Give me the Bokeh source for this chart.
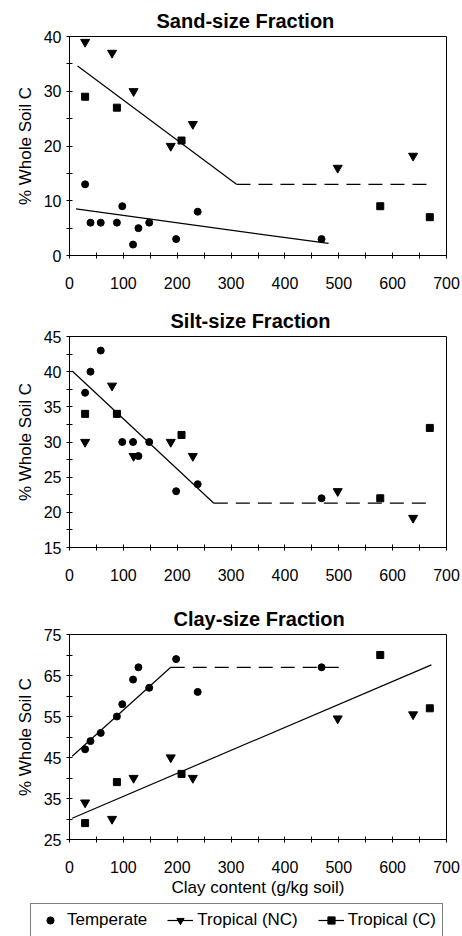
from bokeh.plotting import figure
from bokeh.layouts import column
from bokeh.models import Range1d, FixedTicker, Legend, LegendItem
from bokeh.embed import file_html
from bokeh.resources import INLINE

FONT = "Liberation Sans"
NAN = float("nan")

# Clay content (g/kg soil) of each soil group
temperate_clay = [29, 39, 58, 88, 98, 118, 128, 148, 198, 238, 468]
tropical_nc_clay = [29, 79, 119, 188, 229, 498, 638]
tropical_c_clay = [29, 88, 208, 577, 669]

# Sand-size fraction, % of whole soil C
sand_temperate = [13, 6, 6, 6, 9, 2, 5, 6, 3, 8, 3]
sand_tropical_nc = [39, 37, 30, 20, 24, 16, 18.2]
sand_tropical_c = [29, 27, 21, 9, 7]
sand_trop_fit_x = [15, 310]
sand_trop_fit_y = [34.6, 13.0]
sand_trop_plateau_x = [310, 672]
sand_trop_plateau_y = [13.0, 13.0]
sand_temp_fit_x = [12, 481]
sand_temp_fit_y = [8.5, 2.2]

# Silt-size fraction, % of whole soil C
silt_temperate = [37, 40, 43, 34, 30, 30, 28, 30, 23, 24, 22]
silt_tropical_nc = [30, 38, 28, 30, 28, 23, 19.2]
silt_tropical_c = [34, 34, 31, 22, 32]
silt_fit_x = [5, 268]
silt_fit_y = [40.1, 21.3]
silt_plateau_x = [268, 675]
silt_plateau_y = [21.3, 21.3]

# Clay-size fraction, % of whole soil C
clay_temperate = [47, 49, 51, 55, 58, 64, 67, 62, 69, 61, 67]
clay_tropical_nc = [34, 30, 40, 45, 40, 54.5, 55.5]
clay_tropical_c = [29, 39, 41, 70, 57]
clay_temp_fit_x = [5, 188]
clay_temp_fit_y = [45.3, 67.0]
clay_temp_plateau_x = [188, 500]
clay_temp_plateau_y = [67.0, 67.0]
clay_trop_fit_x = [5, 672]
clay_trop_fit_y = [30.2, 67.6]

x_ticks = [0, 100, 200, 300, 400, 500, 600, 700]
x_minor = [50, 150, 250, 350, 450, 550, 650]

DASH = "14 8"


def make_panel(title, title_offset, y_lo, y_hi, y_ticks, y_minor, height,
               left, right, top, bottom, x_label=None):
    p = figure(width=462, height=height, output_backend="svg",
               toolbar_location=None, title=title,
               x_range=Range1d(0, 700), y_range=Range1d(y_lo, y_hi),
               min_border_left=left, min_border_right=right,
               min_border_top=top, min_border_bottom=bottom)
    p.title.align = "left"
    p.title.offset = title_offset
    p.title.text_font = FONT
    p.title.text_font_size = "20px"
    p.title.text_font_style = "bold"
    p.title.text_color = "black"

    p.xgrid.visible = False
    p.ygrid.visible = False
    p.outline_line_color = "black"
    p.outline_line_alpha = 1.0
    p.outline_line_width = 1
    p.background_fill_color = "white"
    p.border_fill_color = "white"

    p.xaxis.ticker = FixedTicker(ticks=x_ticks, minor_ticks=x_minor)
    p.yaxis.ticker = FixedTicker(ticks=y_ticks, minor_ticks=y_minor)
    for ax in (p.xaxis[0], p.yaxis[0]):
        ax.axis_line_color = "black"
        ax.major_tick_line_color = "black"
        ax.minor_tick_line_color = "black"
        ax.major_tick_in = 3
        ax.major_tick_out = 3
        ax.minor_tick_in = 3
        ax.minor_tick_out = 3
        ax.major_label_text_font = FONT
        ax.major_label_text_font_size = "16px"
        ax.major_label_text_color = "black"
        ax.axis_label_text_font = FONT
        ax.axis_label_text_font_size = "17px"
        ax.axis_label_text_font_style = "normal"
        ax.axis_label_text_color = "black"
    p.xaxis.major_label_standoff = 18
    p.yaxis.major_label_standoff = 5
    p.yaxis.axis_label = "% Whole Soil C"
    p.yaxis.axis_label_standoff = 6
    if x_label:
        p.xaxis.axis_label = x_label
        p.xaxis.axis_label_standoff = 2
    return p


def add_points(p, temp_y, nc_y, c_y):
    p.scatter(temperate_clay, temp_y, marker="circle", size=7,
              fill_color="black", line_color="black")
    p.scatter(tropical_nc_clay, nc_y, marker="inverted_triangle", size=9,
              fill_color="black", line_color="black")
    p.scatter(tropical_c_clay, c_y, marker="square", size=7,
              fill_color="black", line_color="black")


# Sand panel
p1 = make_panel("Sand-size Fraction", 87, 0, 40, [0, 10, 20, 30, 40],
                [5, 15, 25, 35], 300, 65, 15, 36, 45)
p1.line(sand_trop_fit_x, sand_trop_fit_y, line_color="black", line_width=1.2)
p1.line(sand_trop_plateau_x, sand_trop_plateau_y, line_color="black",
        line_width=1.2, line_dash=DASH)
p1.line(sand_temp_fit_x, sand_temp_fit_y, line_color="black", line_width=1.2)
add_points(p1, sand_temperate, sand_tropical_nc, sand_tropical_c)

# Silt panel
p2 = make_panel("Silt-size Fraction", 101, 15, 45, [15, 20, 25, 30, 35, 40, 45],
                [17.5, 22.5, 27.5, 32.5, 37.5, 42.5], 300, 69, 16, 36, 53)
p2.line(silt_fit_x, silt_fit_y, line_color="black", line_width=1.2)
p2.line(silt_plateau_x, silt_plateau_y, line_color="black",
        line_width=1.2, line_dash=DASH)
add_points(p2, silt_temperate, silt_tropical_nc, silt_tropical_c)

# Clay panel
p3 = make_panel("Clay-size Fraction", 104, 25, 75, [25, 35, 45, 55, 65, 75],
                [30, 40, 50, 60, 70], 300, 68, 14, 30, 61,
                x_label="Clay content (g/kg soil)")
p3.line(clay_temp_fit_x, clay_temp_fit_y, line_color="black", line_width=1.2)
p3.line(clay_temp_plateau_x, clay_temp_plateau_y, line_color="black",
        line_width=1.2, line_dash=DASH)
p3.line(clay_trop_fit_x, clay_trop_fit_y, line_color="black", line_width=1.2)
add_points(p3, clay_temperate, clay_tropical_nc, clay_tropical_c)

# Shared legend strip (key glyphs only, nothing plotted)
pl = figure(width=462, height=36, output_backend="svg", toolbar_location=None,
            x_range=Range1d(0, 1), y_range=Range1d(0, 1),
            min_border=0, x_axis_location=None, y_axis_location=None)
pl.xgrid.visible = False
pl.ygrid.visible = False
pl.outline_line_color = None
k_temp = pl.scatter([NAN], [NAN], marker="circle", size=7,
                    fill_color="black", line_color="black")
k_line = pl.line([NAN, NAN], [NAN, NAN], line_color="black", line_width=1.2)
k_nc = pl.scatter([NAN], [NAN], marker="inverted_triangle", size=9,
                  fill_color="black", line_color="black")
k_c = pl.scatter([NAN], [NAN], marker="square", size=7,
                 fill_color="black", line_color="black")
legend = Legend(items=[
    LegendItem(label="Temperate", renderers=[k_temp]),
    LegendItem(label="Tropical (NC)", renderers=[k_line, k_nc]),
    LegendItem(label="Tropical (C)", renderers=[k_line, k_c]),
], orientation="horizontal", location=(30, -1))
legend.label_text_font = FONT
legend.label_text_font_size = "17px"
legend.label_text_color = "black"
legend.glyph_width = 26
legend.glyph_height = 18
legend.label_standoff = 4
legend.spacing = 20
legend.padding = 6
legend.margin = 0
legend.border_line_color = "black"
legend.border_line_width = 1
legend.background_fill_color = "white"
legend.background_fill_alpha = 1.0
pl.add_layout(legend)

layout = column(column(p1, p2, p3, spacing=0), pl, spacing=0)

open("out.html", "w").write(file_html(layout, INLINE))
